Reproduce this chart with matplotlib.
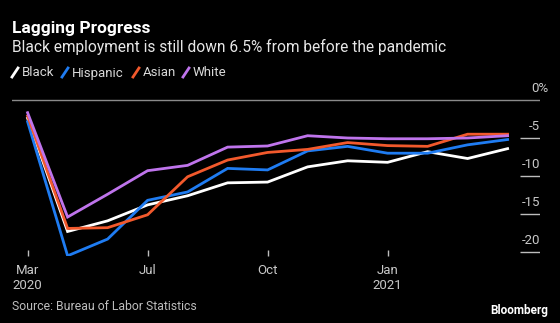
import matplotlib
matplotlib.use("Agg")
import matplotlib.pyplot as plt
from matplotlib.lines import Line2D
import numpy as np

plt.rcParams['font.family'] = ['Roboto', 'DejaVu Sans']

# Monthly change in employment vs. Feb 2020, Mar 2020 .. Mar 2021 (%)
months = ["Mar 2020", "Apr", "May", "Jun", "Jul", "Aug", "Sep", "Oct", "Nov",
          "Dec", "Jan 2021", "Feb", "Mar"]
black = [-2.4, -17.3, -15.9, -13.8, -12.6, -10.9, -10.8, -8.8, -8.0, -8.2, -6.8, -7.7, -6.4]
hispanic = [-2.85, -20.5, -18.3, -13.2, -12.1, -9.0, -9.2, -6.7, -6.1, -7.0, -7.0, -5.9, -5.2]
asian = [-2.1, -16.9, -16.8, -15.1, -10.1, -7.9, -6.9, -6.5, -5.6, -6.0, -6.1, -4.5, -4.5]
white = [-1.67, -15.4, -12.4, -9.3, -8.6, -6.2, -6.05, -4.7, -5.0, -5.1, -5.1, -5.0, -4.7]

series = [("Black", black, "#ffffff"),
          ("Hispanic", hispanic, "#1f7cf2"),
          ("Asian", asian, "#f2592c"),
          ("White", white, "#bf74ec")]

tick_pos = [0, 3, 6, 9]
tick_labels = ["Mar\n2020", "Jul", "Oct", "Jan\n2021"]
y_levels = [-5, -10, -15, -20]

W, H = 560, 323
fig = plt.figure(figsize=(W / 100, H / 100), dpi=100, facecolor="black")

def fx(px):
    return px / W

def fy(py):
    return 1 - py / H

ax = fig.add_axes([fx(12), fy(256), fx(540) - fx(12), fy(80) - fy(256)])
ax.set_facecolor("black")
for s in ax.spines.values():
    s.set_visible(False)

x = np.arange(len(months))
for name, vals, col in series:
    ax.plot(x, vals, color=col, lw=2.0, solid_joinstyle="miter")

ax.set_xlim(-0.39, 12.81)
ax.set_ylim(-(256 - 100) / 7.6, (100 - 80) / 7.6)

# zero line and right-side tick marks
ax.axhline(0, color="#8a8a8a", lw=1.0, zorder=0)
for v in y_levels:
    ax.hlines(v, 12.31, 12.81, color="#bdbdbd", lw=1.0)
    ax.annotate(str(v), (12.81, v), xytext=(0, 5.5), textcoords="offset points",
                ha="right", va="baseline", color="#c8c8c8", fontsize=9.5)
ax.annotate("0%", (12.81, 0), xytext=(-6.5, 5.5), textcoords="offset points",
            ha="left", va="baseline", color="#c8c8c8", fontsize=9.5)

ax.set_yticks([])
ax.set_xticks(tick_pos)
ax.set_xticklabels(tick_labels, color="#c8c8c8", fontsize=9.5, linespacing=1.2)
ax.tick_params(axis="x", direction="in", length=4, width=1, color="#bdbdbd", pad=6)

# titles
fig.text(fx(12), fy(32.5), "Lagging Progress", color="white", fontsize=12.5,
         fontweight="bold", va="baseline")
fig.text(fx(12), fy(52), "Black employment is still down 6.5% from before the pandemic",
         color="#e6e6e6", fontsize=11.2, va="baseline")

# legend
leg_x = [12, 62, 133, 183]
for (name, vals, col), lx in zip(series, leg_x):
    fig.add_artist(Line2D([fx(lx), fx(lx + 6)], [fy(77), fy(68)], color=col, lw=2.0,
                          transform=fig.transFigure))
    fig.text(fx(lx + 10), fy(76.5), name, color="#d8d8d8", fontsize=9.5, va="baseline")

fig.text(fx(12), fy(310), "Source: Bureau of Labor Statistics", color="#bdbdbd",
         fontsize=8.8, va="baseline")
fig.text(fx(548), fy(314), "Bloomberg", color="white", fontsize=8.5,
         fontweight="bold", ha="right", va="baseline")

fig.savefig("out.png", dpi=100, facecolor="black")
